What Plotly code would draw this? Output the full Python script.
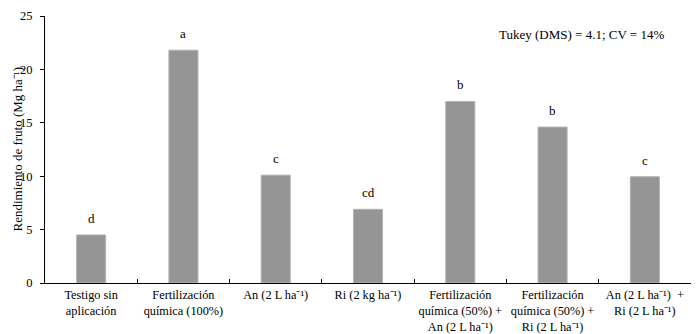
import plotly.graph_objects as go

categories = [
    "Testigo sin<br>aplicación",
    "Fertilización<br>química (100%)",
    "An (2 L ha⁻¹)",
    "Ri (2 kg ha⁻¹)",
    "Fertilización<br>química (50%) +<br>An (2 L ha⁻¹)",
    "Fertilización<br>química (50%) +<br>Ri (2 L ha⁻¹)",
    "An (2 L ha⁻¹)  +<br>Ri (2 L ha⁻¹)",
]
values = [4.5, 21.8, 10.1, 6.9, 17.0, 14.6, 9.95]
letters = ["d", "a", "c", "cd", "b", "b", "c"]
y_ticks = [0, 5, 10, 15, 20, 25]
y_title = "Rendimiento de fruto (Mg ha⁻¹)"

FONT = "Liberation Serif"

fig = go.Figure()
fig.add_trace(go.Bar(
    x=categories, y=values,
    marker=dict(color="#959595", line=dict(color="#b4b4b4", width=1)),
    showlegend=False,
))
for c, v, l in zip(categories, values, letters):
    fig.add_annotation(x=c, y=v, text=l, showarrow=False, yanchor="bottom",
                       yshift=7, font=dict(family=FONT, size=13, color="#000"))

fig.add_annotation(xref="paper", yref="paper", x=0.83, y=0.929, text="Tukey (DMS) = 4.1; CV = 14%",
                   showarrow=False, xanchor="center", yanchor="middle",
                   font=dict(family=FONT, size=13, color="#000"))

# y-axis title as a rotated annotation so its position can be set precisely
fig.add_annotation(xref="paper", yref="paper", x=0, y=0.5, text=y_title, textangle=-90,
                   showarrow=False, xanchor="center", yanchor="middle", xshift=-28,
                   font=dict(family=FONT, size=13, color="#000"))

# page body has an 8px default margin; the figure is sized so the plot lands where the reference has it
fig.update_layout(
    width=692, height=326,
    margin=dict(l=37, r=9, t=8, b=51),
    paper_bgcolor="white", plot_bgcolor="white",
    bargap=0.685,
    font=dict(family=FONT, size=12, color="#000"),
    xaxis=dict(showline=True, linecolor="#000", linewidth=1, ticks="inside", ticklen=4,
               tickson="boundaries", tickcolor="#000", showgrid=False, automargin=False,
               tickfont=dict(family=FONT, size=12.3), tickangle=0),
    yaxis=dict(range=[0, 25], tickvals=y_ticks, showline=True, linecolor="#000", linewidth=1,
               ticks="outside", ticklen=4, tickcolor="#000", showgrid=False, zeroline=False,
               automargin=False, ticklabelstandoff=5,
               tickfont=dict(family=FONT, size=12.5)),
)
fig.write_html("out.html")
